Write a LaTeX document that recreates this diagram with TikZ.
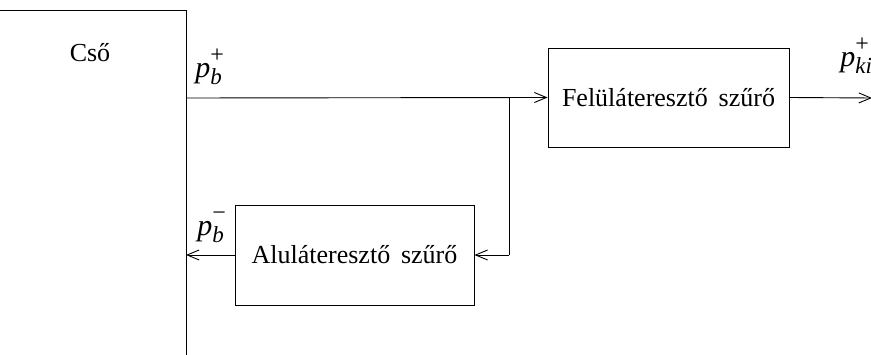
\documentclass[tikz,border=0pt]{standalone}
\usepackage{fontspec}
\setmainfont{Liberation Serif}
\usetikzlibrary{arrows.meta}
\newcommand{\pvar}[2]{{\itshape p}\rlap{\raisebox{0.5em}{\fontsize{24}{26}\selectfont #2}}\raisebox{-0.22em}{\fontsize{23}{26}\selectfont\itshape #1}}
\begin{document}
\begin{tikzpicture}[x=1pt,y=-1pt,
  line width=0.9pt,
  box/.style={draw, rectangle, line width=0.9pt, inner sep=0pt},
  lbl/.style={inner sep=0pt, font=\fontsize{26}{30}\selectfont},
  mlbl/.style={inner sep=0pt, font=\fontsize{30}{36}\selectfont},
  arr/.style={-{Straight Barb[length=12pt,width=10pt,line width=0.9pt]}}]
\useasboundingbox (0,0) rectangle (871,355);
\node[box, minimum width=241pt, minimum height=99pt, lbl] (hp) at (668.5,97.5) {Felüláteresztő\, szűrő};
\node[box, minimum width=239pt, minimum height=100pt, lbl] (lp) at (354.5,255) {Aluláteresztő\, szűrő};
\coordinate (tl) at (0,10);
\coordinate (corner) at (186,10);
\coordinate (bot) at (186,356);
\coordinate (win) at (186,98);
\coordinate (br) at (509,98);
\coordinate (wout) at (186,255);
\coordinate (out) at (872,98);
\draw (tl) -- (corner) -- (bot);
\draw[arr] (win) -- (hp.west);
\draw (br) -- (br |- lp.east);
\draw[arr] (br |- lp.east) -- (lp.east);
\draw[arr] (lp.west) -- (wout);
\draw[arr] (hp.east) -- (out);
\node[lbl] (cso) at (90,53) {Cső};
\node[mlbl, anchor=base west] (pbp) at (195,78) {\pvar{b}{+}};
\node[mlbl, anchor=base west] (pbm) at (197,236) {\pvar{b}{−}};
\node[mlbl, anchor=base west] (pki) at (840,67) {\pvar{ki}{+}};
\end{tikzpicture}
\end{document}
